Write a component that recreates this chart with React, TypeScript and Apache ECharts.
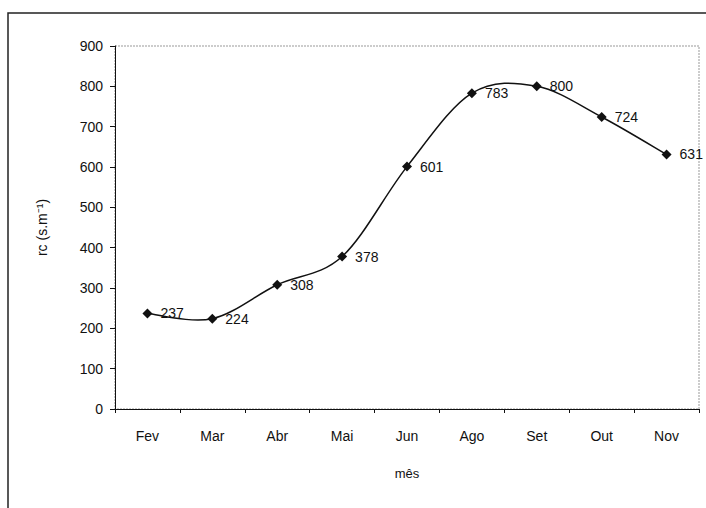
import React, { useEffect, useRef } from "react";
import * as echarts from "echarts";

const categories = ["Fev", "Mar", "Abr", "Mai", "Jun", "Ago", "Set", "Out", "Nov"];
const rcValues = [237, 224, 308, 378, 601, 783, 800, 724, 631];
const yTicks = [0, 100, 200, 300, 400, 500, 600, 700, 800, 900];

export default function App() {
  const ref = useRef<HTMLDivElement>(null);
  useEffect(() => {
    if (!ref.current) return;
    const chart = echarts.init(ref.current, null, { renderer: "svg" });
    const font = "Liberation Sans, Arial, sans-serif";
    chart.setOption({
      animation: false,
      backgroundColor: "#fff",
      textStyle: { fontFamily: font },
      graphic: [
        {
          type: "rect",
          shape: { x: 8, y: 13, width: 720, height: 520 },
          style: { fill: "none", stroke: "#222", lineWidth: 1.5 },
          silent: true,
        },
        {
          type: "rect",
          shape: { x: 115, y: 46, width: 584, height: 363 },
          style: { fill: "none", stroke: "#999", lineWidth: 1, lineDash: [2, 1] },
          silent: true,
          z: -1,
        },
      ],
      grid: { left: 115, top: 46, width: 584, height: 363, containLabel: false },
      xAxis: {
        type: "category",
        data: categories,
        boundaryGap: true,
        name: "mês",
        nameLocation: "middle",
        nameGap: 58,
        nameTextStyle: { color: "#111", fontSize: 13, fontFamily: font },
        axisLine: { lineStyle: { color: "#111", width: 1 } },
        axisTick: { show: true, alignWithLabel: false, length: 4, lineStyle: { color: "#111" } },
        axisLabel: { color: "#111", fontSize: 14, margin: 20, fontFamily: font },
        splitLine: { show: false },
      },
      yAxis: {
        type: "value",
        min: yTicks[0],
        max: yTicks[yTicks.length - 1],
        interval: 100,
        name: "rc (s.m⁻¹)",
        nameLocation: "middle",
        nameGap: 66,
        nameRotate: 90,
        nameTextStyle: { color: "#111", fontSize: 14, fontFamily: font },
        axisLine: { show: true, lineStyle: { color: "#111", width: 1 } },
        axisTick: { show: true, inside: false, length: 5, lineStyle: { color: "#111" } },
        axisLabel: { color: "#111", fontSize: 14, margin: 12, fontFamily: font },
        splitLine: { show: false },
      },
      series: [
        {
          type: "custom",
          z: 1,
          data: rcValues.map((v, i) => [i, v]),
          encode: { x: 0, y: 1 },
          renderItem: (params: any, api: any) => {
            if (params.dataIndex !== 0) return { type: "group", children: [] };
            const pts = rcValues.map((v, i) => api.coord([i, v]));
            const n = pts.length;
            const children: any[] = [];
            for (let i = 0; i < n - 1; i++) {
              const p0 = pts[Math.max(0, i - 1)];
              const p1 = pts[i];
              const p2 = pts[i + 1];
              const p3 = pts[Math.min(n - 1, i + 2)];
              children.push({
                type: "bezierCurve",
                shape: {
                  x1: p1[0],
                  y1: p1[1],
                  x2: p2[0],
                  y2: p2[1],
                  cpx1: p1[0] + (p2[0] - p0[0]) / 6,
                  cpy1: p1[1] + (p2[1] - p0[1]) / 6,
                  cpx2: p2[0] - (p3[0] - p1[0]) / 6,
                  cpy2: p2[1] - (p3[1] - p1[1]) / 6,
                },
                style: { stroke: "#111", lineWidth: 1.5, fill: "none" },
              });
            }
            return { type: "group", children };
          },
        },
        {
          type: "line",
          z: 3,
          data: rcValues,
          symbol: "diamond",
          symbolSize: 10,
          lineStyle: { width: 0, opacity: 0 },
          itemStyle: { color: "#111" },
          label: {
            show: true,
            position: "right",
            distance: 8,
            color: "#111",
            fontSize: 14,
            fontFamily: font,
          },
        },
      ],
    });
    return () => chart.dispose();
  }, []);
  return (
    <div
      ref={ref}
      style={{ position: "absolute", left: 0, top: 0, width: 706, height: 508 }}
    />
  );
}
